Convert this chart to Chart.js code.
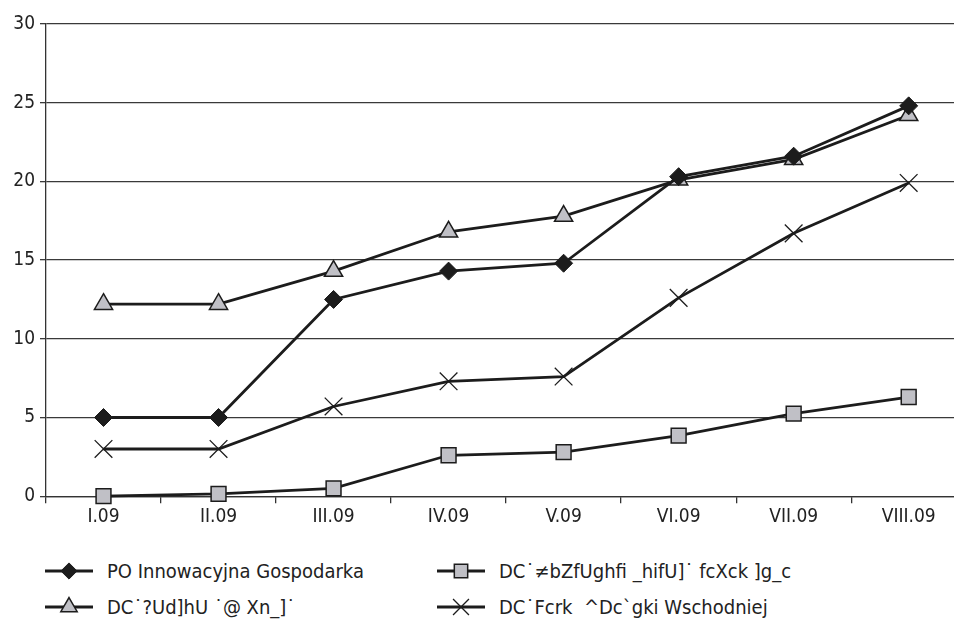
<!DOCTYPE html>
<html>
<head>
<meta charset="utf-8">
<script src="https://cdn.jsdelivr.net/npm/chart.js@4"></script>
<style>
  html, body { margin: 0; padding: 0; background: #fff; overflow: hidden; width: 954px; height: 621px; }
  #wrap { position: absolute; left: 0; top: 0; width: 954px; height: 530px; overflow: hidden; }
  #c { display: block; }
  #legend { position: absolute; left: 0; top: 556px; width: 954px; height: 65px;
            font-family: "DejaVu Sans Condensed", "Liberation Sans Narrow", sans-serif; font-size: 20px; color: #222; }
  .item { position: absolute; display: flex; align-items: center; height: 30px; white-space: pre; }
  .item canvas { margin-right: 12px; }
</style>
</head>
<body>
<div id="wrap"><canvas id="c" width="980" height="530"></canvas></div>
<div id="legend"></div>
<script>
// Months of 2009
const categories = ["I.09", "II.09", "III.09", "IV.09", "V.09", "VI.09", "VII.09", "VIII.09"];

// Series names
const seriesNames = [
  "PO Innowacyjna Gospodarka",
  "DC˙≠bZfUghfi _hifU]˙ fcXck ]g_c",
  "DC˙?Ud]hU ˙@ Xn_]˙",
  "DC˙Fcrk  ^Dc`gki Wschodniej"
];

// Series values
const innowacyjna = [5.0, 5.0, 12.5, 14.3, 14.8, 20.3, 21.6, 24.8];
const infrastruktura = [0.0, 0.15, 0.5, 2.6, 2.8, 3.85, 5.25, 6.3];
const kapital = [12.2, 12.2, 14.3, 16.8, 17.8, 20.1, 21.4, 24.2];
const wschodnia = [3.0, 3.0, 5.7, 7.3, 7.6, 12.6, 16.7, 19.9];

// Y axis ticks
const yTicks = [0, 5, 10, 15, 20, 25, 30];

const FONT = "'DejaVu Sans Condensed', 'Liberation Sans Narrow', sans-serif";
const LINE = "#1c1c1c";
const GREY = "#c0c0c6";

const datasets = [
  { label: seriesNames[0], data: innowacyjna, pointStyle: "rectRot", pointRadius: 9,
    pointBackgroundColor: "#1c1c1c", pointBorderColor: "#1c1c1c", pointBorderWidth: 1 },
  { label: seriesNames[1], data: infrastruktura, pointStyle: "rect", pointRadius: 10.5,
    pointBackgroundColor: GREY, pointBorderColor: "#1c1c1c", pointBorderWidth: 1.5 },
  { label: seriesNames[2], data: kapital, pointStyle: "triangle", pointRadius: 10.5,
    pointBackgroundColor: GREY, pointBorderColor: "#1c1c1c", pointBorderWidth: 1.5 },
  { label: seriesNames[3], data: wschodnia, pointStyle: "crossRot", pointRadius: 12.5,
    pointBackgroundColor: "#1c1c1c", pointBorderColor: "#1c1c1c", pointBorderWidth: 1.3 }
].map(d => Object.assign({
  borderColor: LINE, borderWidth: 2.8, backgroundColor: LINE, fill: false, tension: 0,
  pointHoverRadius: d.pointRadius, clip: false
}, d));

// draw order: the diamond series on top
datasets[0].order = 0; datasets[2].order = 1; datasets[3].order = 2; datasets[1].order = 3;

new Chart(document.getElementById("c"), {
  type: "line",
  data: { labels: categories, datasets },
  options: {
    responsive: false,
    animation: false,
    devicePixelRatio: 1,
    layout: { padding: { top: 24, left: 0, right: 0, bottom: 0 } },
    plugins: { legend: { display: false }, tooltip: { enabled: false } },
    scales: {
      x: {
        offset: true,
        grid: { offset: true, drawOnChartArea: false, drawTicks: true, tickLength: 7,
                color: "#333", lineWidth: 1.3 },
        border: { color: "#333", width: 1.3 },
        ticks: { color: "#222", font: { family: FONT, size: 19 }, padding: 2, maxRotation: 0, autoSkip: false }
      },
      y: {
        min: 0, max: 30,
        afterBuildTicks: s => { s.ticks = yTicks.map(v => ({ value: v })); },
        afterFit: s => { s.width = 46; },
        grid: { color: "#3a3a3a", lineWidth: 1.3, drawTicks: true, tickLength: 6 },
        border: { color: "#333", width: 1.3 },
        ticks: { color: "#222", font: { family: FONT, size: 19 }, padding: 5 }
      }
    }
  }
});

// Legend: a short line with the series marker in its middle, then the name
const legend = document.getElementById("legend");
const slots = [[45, 0], [437, 0], [45, 36], [437, 36]];
datasets.forEach((d, i) => {
  const item = document.createElement("div");
  item.className = "item";
  item.style.left = slots[i][0] + "px";
  item.style.top = slots[i][1] + "px";
  const cv = document.createElement("canvas");
  cv.width = 50; cv.height = 30;
  const ctx = cv.getContext("2d");
  ctx.strokeStyle = LINE; ctx.lineWidth = 2.8;
  ctx.beginPath(); ctx.moveTo(0, 15); ctx.lineTo(48, 15); ctx.stroke();
  ctx.fillStyle = d.pointBackgroundColor; ctx.strokeStyle = d.pointBorderColor;
  ctx.lineWidth = d.pointBorderWidth;
  Chart.helpers.drawPoint(ctx, {
    pointStyle: d.pointStyle, radius: d.pointRadius * 0.9, rotation: 0, borderWidth: d.pointBorderWidth
  }, 24, 15);
  item.appendChild(cv);
  const t = document.createElement("span");
  t.textContent = d.label;
  item.appendChild(t);
  legend.appendChild(item);
});
</script>
</body>
</html>
